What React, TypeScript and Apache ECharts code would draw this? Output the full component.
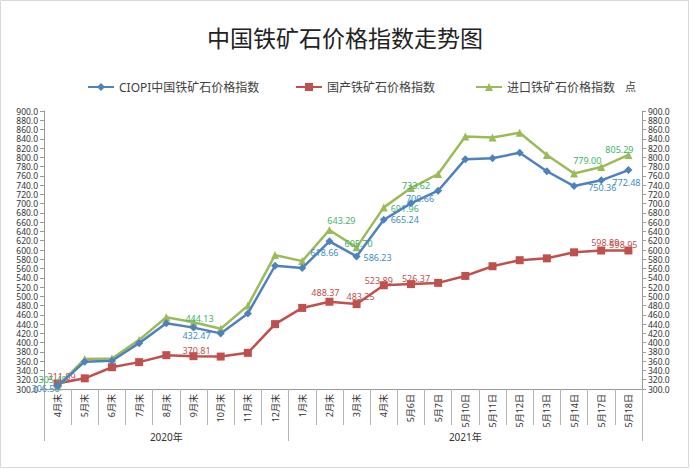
import React, { useEffect, useRef } from "react";
import * as echarts from "echarts";

const categories = [
  "4月末", "5月末", "6月末", "7月末", "8月末", "9月末", "10月末", "11月末", "12月末",
  "1月末", "2月末", "3月末", "4月末", "5月6日", "5月7日", "5月10日", "5月11日", "5月12日",
  "5月13日", "5月14日", "5月17日", "5月18日",
];
const yearLabels = ["2020年", "2021年"];
const yearSpans = [9, 13];

const ciopiValues = [
  306.5, 359, 361, 399, 442, 432.47, 420, 463, 566, 561, 618.66, 586.23, 665.24, 700.66,
  728, 796, 798, 810, 770, 738, 750.36, 772.48,
];
const domesticValues = [
  311.89, 323, 347, 358, 373, 370.81, 370, 378, 440, 475, 488.37, 483.25, 523.89, 526.37,
  529, 544, 565, 578, 582, 595, 598.89, 598.95,
];
const importValues = [
  305.48, 365, 366, 406, 455, 444.13, 430, 480, 589, 576, 643.29, 605.7, 691.96, 733.62,
  764, 845, 843, 853, 805, 765, 779.0, 805.29,
];

const seriesNames = ["CIOPI中国铁矿石价格指数", "国产铁矿石价格指数", "进口铁矿石价格指数"];

// label offsets (px) relative to the marker for the points that show a value label
const ciopiLabelOffsets: Record<number, [number, number]> = {
  0: [-12, 3], 5: [3, 8], 10: [-5, 11], 11: [21, 1], 12: [21, 0], 13: [9, -5], 20: [1, 7], 21: [-2, 12],
};
const domesticLabelOffsets: Record<number, [number, number]> = {
  0: [4, -7], 5: [3, -6], 10: [-4, -9], 11: [4, -8], 12: [-5, -5], 13: [5, -6], 20: [4, -8], 21: [-5, -6],
};
const importLabelOffsets: Record<number, [number, number]> = {
  0: [-5, -7], 5: [6, -4], 10: [12, -9], 11: [2, -4], 12: [21, 1], 13: [5, -3], 20: [-14, -7], 21: [-9, -5],
};

const FONT = "'Noto Sans', 'Noto Sans CJK SC', sans-serif";

function buildData(values: number[], offsets: Record<number, [number, number]>, color: string) {
  return values.map((v, i) => {
    const off = offsets[i];
    if (!off) return { value: v };
    return {
      value: v,
      label: {
        show: true,
        position: "inside",
        offset: off,
        color,
        fontSize: 9,
        fontFamily: FONT,
        formatter: (p: any) => Number(p.value).toFixed(2),
      },
    };
  });
}

export default function App() {
  const ref = useRef<HTMLDivElement>(null);
  useEffect(() => {
    document.body.style.margin = "0";
    const chart = echarts.init(ref.current!, null, { renderer: "svg" });
    const axisGray = "#9a9a9a";
    const yAxisBase = {
      type: "value",
      min: 300,
      max: 900,
      interval: 20,
      splitLine: { show: false },
      axisLine: { show: true, lineStyle: { color: axisGray } },
      axisTick: { show: true, length: 4, lineStyle: { color: axisGray } },
      axisLabel: {
        fontSize: 8.5,
        lineHeight: 9,
        color: "#333",
        fontFamily: FONT,
        margin: 6,
        formatter: (v: number) => v.toFixed(1),
      },
    };
    const yearCenters: Record<number, string> = {};
    const yearStarts: number[] = [];
    let s = 0;
    yearSpans.forEach((span, k) => {
      yearStarts.push(s);
      yearCenters[s + Math.floor((span - 1) / 2)] = yearLabels[k];
      s += span;
    });
    const legendBase = {
      top: 76,
      itemWidth: 26,
      itemHeight: 10,
      textStyle: { fontSize: 12, color: "#404040", fontFamily: FONT },
    };
    chart.setOption({
      animation: false,
      backgroundColor: "#fff",
      title: {
        text: "中国铁矿石价格指数走势图",
        left: "center",
        top: 21,
        textStyle: { fontSize: 23, fontWeight: "normal", color: "#222", fontFamily: FONT },
      },
      legend: [
        { ...legendBase, left: 82, data: [seriesNames[0]] },
        { ...legendBase, left: 290, data: [seriesNames[1]] },
        { ...legendBase, left: 470, data: [seriesNames[2]] },
      ],
      graphic: [
        {
          type: "rect",
          shape: { x: 0.5, y: 0.5, width: 688, height: 467 },
          style: { fill: "none", stroke: "#d9d9d9", lineWidth: 1 },
          silent: true,
        },
        {
          type: "text",
          x: 625,
          y: 81,
          style: { text: "点", fontSize: 11, fill: "#404040", fontFamily: FONT },
        },
      ],
      grid: { left: 44, right: 48, top: 111, bottom: 81, containLabel: false },
      xAxis: [
        {
          type: "category",
          data: categories,
          boundaryGap: true,
          axisLine: { show: true, lineStyle: { color: axisGray } },
          axisTick: { show: true, length: 36, alignWithLabel: false, lineStyle: { color: "#b5b5b5" } },
          axisLabel: {
            interval: 0,
            rotate: 90,
            fontSize: 9,
            color: "#333",
            fontFamily: FONT,
            margin: 5,
          },
        },
        {
          type: "category",
          data: categories,
          position: "bottom",
          boundaryGap: true,
          axisLine: { show: false },
          axisTick: {
            show: true,
            length: 52,
            alignWithLabel: false,
            interval: (i: number) => yearStarts.indexOf(i) >= 0,
            lineStyle: { color: "#b5b5b5" },
          },
          axisLabel: {
            interval: 0,
            margin: 43,
            fontSize: 10,
            color: "#333",
            fontFamily: FONT,
            formatter: (_v: string, i: number) => yearCenters[i] || "",
          },
        },
      ],
      yAxis: [
        { ...yAxisBase, position: "left" },
        { ...yAxisBase, position: "right" },
      ],
      series: [
        {
          name: seriesNames[0],
          type: "line",
          data: buildData(ciopiValues, ciopiLabelOffsets, "#3C8DC5"),
          symbol: "diamond",
          symbolSize: 8,
          itemStyle: { color: "#4F81BD" },
          lineStyle: { width: 2.5, color: "#4F81BD" },
          z: 3,
        },
        {
          name: seriesNames[1],
          type: "line",
          data: buildData(domesticValues, domesticLabelOffsets, "#C0504D"),
          symbol: "rect",
          symbolSize: 8,
          itemStyle: { color: "#C0504D" },
          lineStyle: { width: 2.5, color: "#C0504D" },
          z: 2,
        },
        {
          name: seriesNames[2],
          type: "line",
          data: buildData(importValues, importLabelOffsets, "#3DB36B"),
          symbol: "triangle",
          symbolSize: 8,
          itemStyle: { color: "#9BBB59" },
          lineStyle: { width: 2.5, color: "#9BBB59" },
          z: 2,
        },
      ],
    });
    return () => chart.dispose();
  }, []);
  return (
    <div
      ref={ref}
      style={{ position: "absolute", left: 0, top: 0, width: 690, height: 470 }}
    />
  );
}
